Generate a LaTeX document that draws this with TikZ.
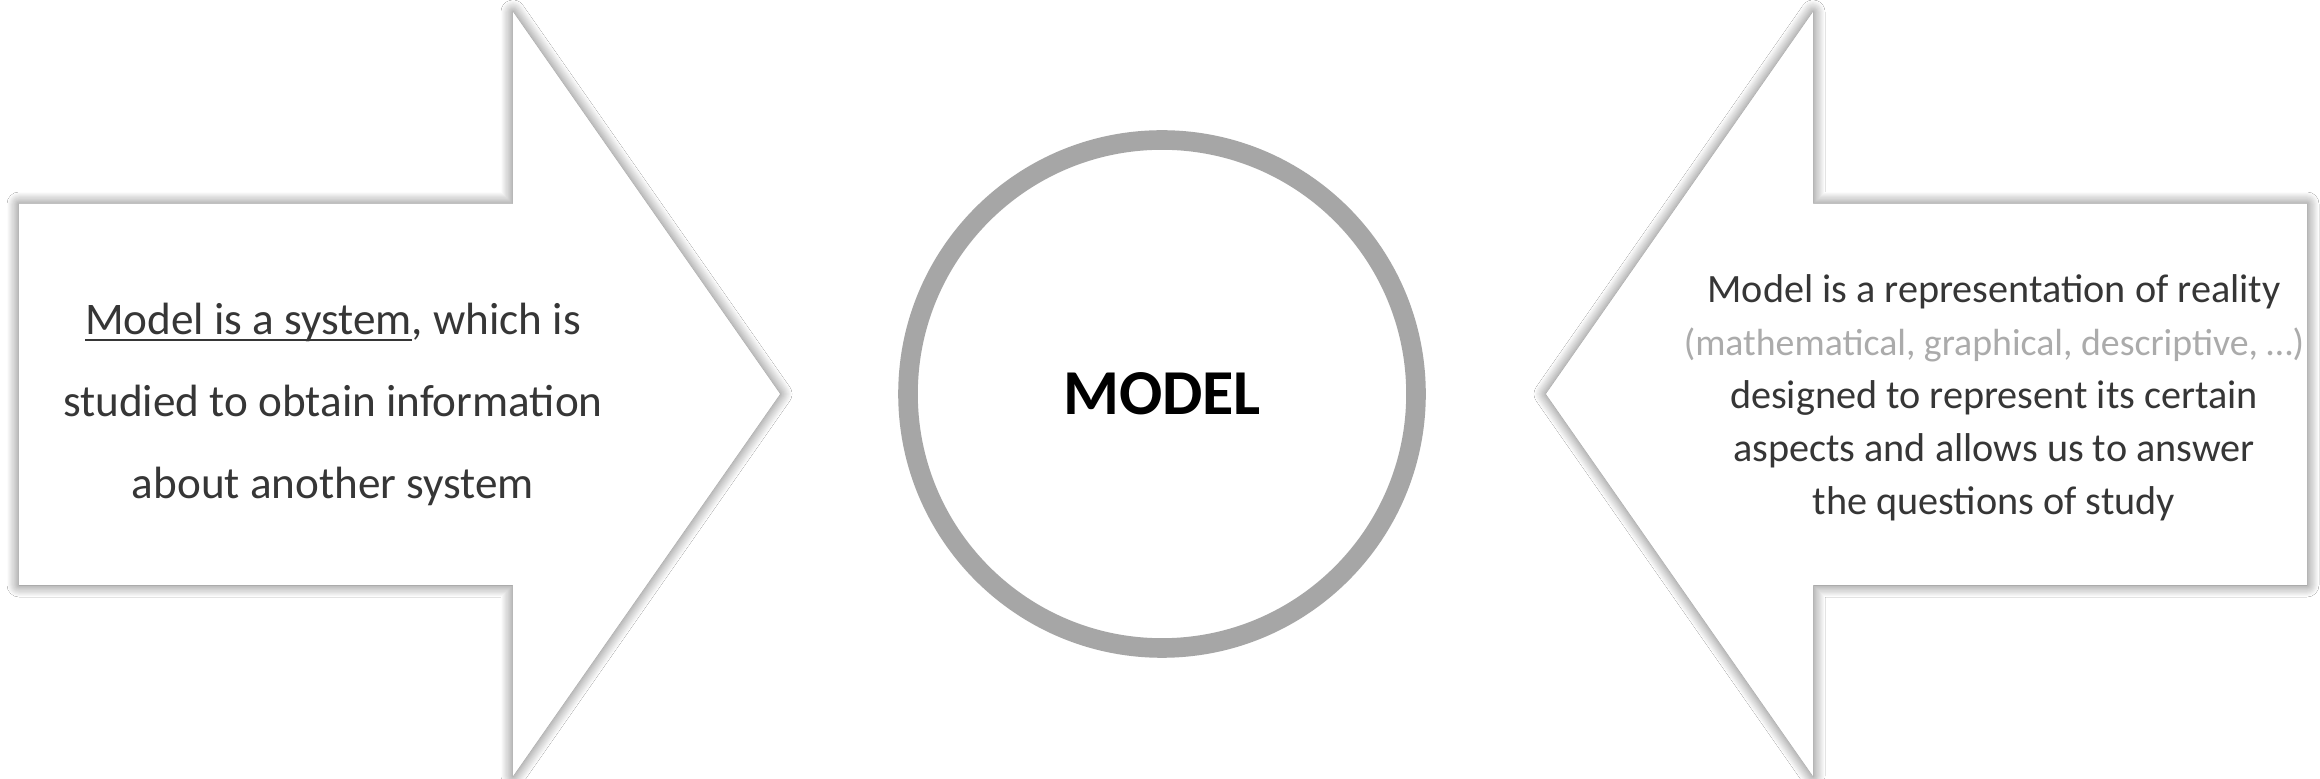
\documentclass[tikz,border=0pt]{standalone}
\usepackage{fontspec}
\setmainfont{Carlito}
\usetikzlibrary{shadows.blur}
\definecolor{txt}{HTML}{363636}
\definecolor{ring}{HTML}{A6A6A6}
\definecolor{lighttxt}{HTML}{ABABAB}
\newcommand\myul[1]{\setbox0\hbox{#1}\rlap{\rule[-3.4pt]{\wd0}{1.1pt}}#1}
\tikzset{
  arrowshape/.style={fill=white, draw=none,
    blur shadow={shadow xshift=0pt, shadow yshift=0pt, shadow blur radius=6pt, shadow blur steps=12, shadow opacity=60}},
  bodytext/.style={text=txt, align=center, inner sep=0pt},
}
\begin{document}
\begin{tikzpicture}[x=0.5pt, y=-0.5pt]
\useasboundingbox (0,0) rectangle (2320,779);
\fill[white] (0,0) rectangle (2320,779);
% left arrow
\path[arrowshape] (19,204) -- (513,204) -- (513,12) -- (780,394) -- (513,776) -- (513,585) -- (19,585) -- cycle;
% right arrow
\path[arrowshape] (2307,204) -- (1813,204) -- (1813,12) -- (1546,394) -- (1813,776) -- (1813,585) -- (2307,585) -- cycle;
% circle
\node (model) [circle, draw=ring, line width=9.8pt, fill=white, minimum size=254pt, inner sep=0pt,
  font=\fontsize{32}{38}\selectfont\bfseries] at (1162,394) {MODEL};
% texts
\node (lefttext) [bodytext, font=\fontsize{22.6}{41}\selectfont] at (333,404) {\myul{Model is a system}, which is\\ studied to obtain information\\ about another system};
\node (righttext) [bodytext, font=\fontsize{20.1}{26.5}\selectfont] at (1994,398) {Model is a representation of reality\\ \textcolor{lighttxt}{\fontsize{18.9}{26.5}\selectfont(mathematical, graphical, descriptive, …)}\\ designed to represent its certain\\ aspects and allows us to answer\\ the questions of study};
\end{tikzpicture}
\end{document}
